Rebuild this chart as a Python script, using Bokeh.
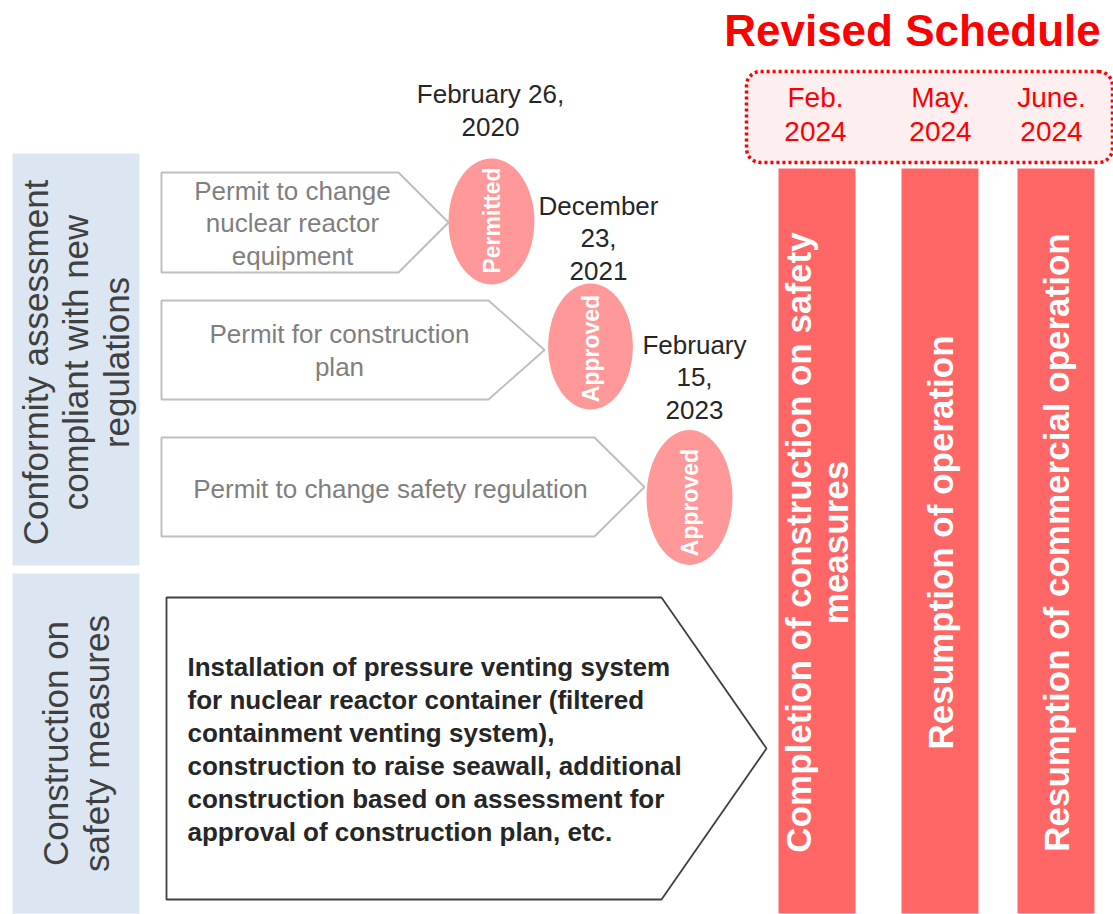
import numpy as np
from bokeh.plotting import figure
from bokeh.models import Range1d
from bokeh.core.properties import value
from bokeh.embed import file_html
from bokeh.resources import INLINE

# ---------------- content ----------------
title_text = "Revised Schedule"
section_labels = ["Conformity assessment\ncompliant with new\nregulations",
                  "Construction on\nsafety measures"]
permit_labels = ["Permit to change\nnuclear reactor\nequipment",
                 "Permit for construction\nplan",
                 "Permit to change safety regulation"]
permit_status = ["Permitted", "Approved", "Approved"]
permit_dates = ["February 26,\n2020", "December\n23,\n2021", "February\n15,\n2023"]
construction_text = ("Installation of pressure venting system\n"
                     "for nuclear reactor container (filtered\n"
                     "containment venting system),\n"
                     "construction to raise seawall, additional\n"
                     "construction based on assessment for\n"
                     "approval of construction plan, etc.")
milestone_dates = ["Feb.\n2024", "May.\n2024", "June.\n2024"]
milestone_labels = ["Completion of construction on safety\nmeasures",
                    "Resumption of operation",
                    "Resumption of commercial operation"]

# ---------------- layout (reference pixel space) ----------------
FONT = value("Liberation Sans")
sec_left, sec_right = [12, 12], [139, 139]
sec_top, sec_bottom = [153, 573], [565, 913]
sec_text_y = [362, 743]

arrow_left = 161
arrow_top = [172, 300, 437]
arrow_bottom = [272, 399, 536]
arrow_shoulder = [398, 488, 594]
arrow_tip = [448, 544, 644]
arrow_text_x = [292, 339, 390]
arrow_text_y = [223, 350, 488]

ell_x = [491, 590, 689]
ell_y = [221, 346, 497]
ell_w = [86, 85, 86]
ell_h = [126, 126, 135]
status_y = [220, 348, 502]

date_x = [490, 598, 694]
date_y = [110, 238, 377]

big_arrow = dict(left=166, top=597, bottom=899, shoulder=661, tip=766)
big_text_x, big_text_y = 187, 749

bar_left = [778, 901, 1017]
bar_right = [855, 978, 1094]
bar_top, bar_bottom = 168, 913
bar_text_y = 542

box = dict(x0=746, x1=1112, y0=71, y1=162, r=14)
mdate_x = [815, 940, 1051]
mdate_y = 114
title_x, title_y = 912, 30

# ---------------- figure ----------------
p = figure(width=1113, height=914, x_range=Range1d(0, 1113), y_range=Range1d(914, 0),
           output_backend="svg", toolbar_location=None, min_border=0,
           x_axis_location=None, y_axis_location=None)
p.grid.visible = False
p.outline_line_color = None
p.background_fill_color = "white"
p.border_fill_color = "white"

# section boxes
p.quad(left=sec_left, right=sec_right, top=sec_top, bottom=sec_bottom,
       fill_color="#DCE6F2", line_color=None)
p.text(x=[(a + b) / 2 for a, b in zip(sec_left, sec_right)], y=sec_text_y, text=section_labels,
       angle=np.pi / 2, text_align="center", text_baseline="middle", text_font=FONT,
       text_font_size="35px", text_color="#404040", text_line_height=1.05)

# permit arrows
xs, ys = [], []
for t, b, s, tip in zip(arrow_top, arrow_bottom, arrow_shoulder, arrow_tip):
    xs.append([arrow_left, s, tip, s, arrow_left])
    ys.append([t, t, (t + b) / 2, b, b])
p.patches(xs, ys, fill_color="white", line_color="#BFBFBF", line_width=2)
p.text(x=arrow_text_x, y=arrow_text_y, text=permit_labels, text_align="center",
       text_baseline="middle", text_font=FONT, text_font_size="26px",
       text_color="#7F7F7F", text_line_height=1.09)

# status ellipses
p.ellipse(x=ell_x, y=ell_y, width=ell_w, height=ell_h, fill_color="#FF9999", line_color=None)
p.text(x=ell_x, y=status_y, text=permit_status, angle=np.pi / 2, text_align="center",
       text_baseline="middle", text_font=FONT, text_font_style="bold",
       text_font_size="23px", text_color="white")

# dates
p.text(x=date_x, y=date_y, text=permit_dates, text_align="center", text_baseline="middle",
       text_font=FONT, text_font_size="26px", text_color="#262626", text_line_height=1.07)

# construction arrow
ba = big_arrow
p.patch([ba["left"], ba["shoulder"], ba["tip"], ba["shoulder"], ba["left"]],
        [ba["top"], ba["top"], (ba["top"] + ba["bottom"]) / 2, ba["bottom"], ba["bottom"]],
        fill_color="white", line_color="#404040", line_width=1.8)
p.text(x=[big_text_x], y=[big_text_y], text=[construction_text], text_align="left",
       text_baseline="middle", text_font=FONT, text_font_style="bold",
       text_font_size="26px", text_color="#262626", text_line_height=1.095)

# revised schedule box (rounded, dotted)
def rounded_rect(x0, x1, y0, y1, r, n=12):
    px, py = [], []
    corners = [(x1 - r, y0 + r, -np.pi / 2, 0), (x1 - r, y1 - r, 0, np.pi / 2),
               (x0 + r, y1 - r, np.pi / 2, np.pi), (x0 + r, y0 + r, np.pi, 1.5 * np.pi)]
    for cx, cy, a0, a1 in corners:
        a = np.linspace(a0, a1, n)
        px.extend(cx + r * np.cos(a))
        py.extend(cy + r * np.sin(a))
    return px, py

rx, ry = rounded_rect(box["x0"], box["x1"], box["y0"], box["y1"], box["r"])
p.patch(rx, ry, fill_color="#FDEFEF", line_color="#FF0000", line_width=3.5, line_dash="3 3")
p.text(x=mdate_x, y=[mdate_y] * 3, text=milestone_dates, text_align="center",
       text_baseline="middle", text_font=FONT, text_font_size="28px",
       text_color="#FF0000", text_line_height=1.12)

# title
p.text(x=[title_x], y=[title_y], text=[title_text],
       text_align="center", text_baseline="middle", text_font=FONT, text_font_style="bold",
       text_font_size="44px", text_color="#FF0000")

# milestone bars
p.quad(left=bar_left, right=bar_right, top=[bar_top] * 3, bottom=[bar_bottom] * 3,
       fill_color="#FF6666", line_color=None)
p.text(x=[(a + b) / 2 for a, b in zip(bar_left, bar_right)], y=[bar_text_y] * 3,
       text=milestone_labels, angle=np.pi / 2, text_align="center", text_baseline="middle",
       text_font=FONT, text_font_style="bold", text_font_size="35px", text_color="white",
       text_line_height=0.97)

open("out.html", "w").write(file_html(p, INLINE, "Revised Schedule"))
